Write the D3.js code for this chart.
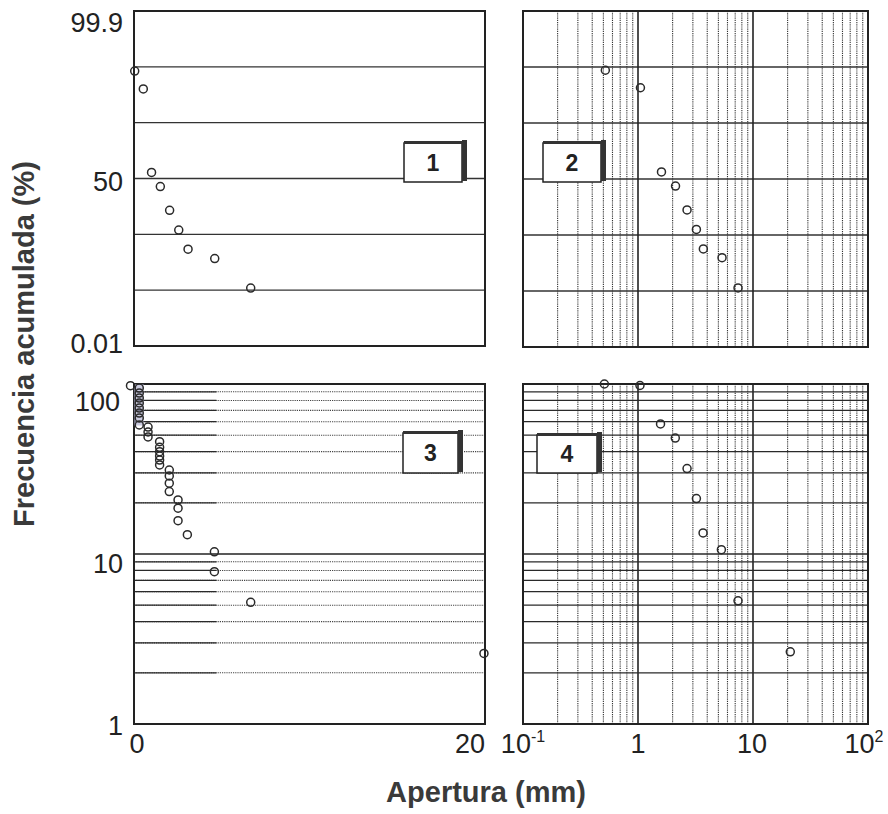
<!DOCTYPE html>
<html lang="es">
<head>
<meta charset="UTF-8">
<title>Frecuencia acumulada vs Apertura</title>
<script src="https://d3js.org/d3.v7.min.js"></script>
<style>
body { margin: 0; background: #fff; }
svg text { font-family: "Liberation Sans", Arial, Helvetica, sans-serif; fill: #222; }
.tick-label { font-size: 27px; }
.axis-title { font-size: 29px; font-weight: bold; fill: #3a3a3a; }
.box-label { font-size: 23px; font-weight: bold; }
.frame { fill: none; stroke: #222; stroke-width: 2px; }
.pt { fill: none; stroke: #2a2a2a; stroke-width: 1.5px; }
</style>
</head>
<body>
<div id="chart"></div>
<script>
// values, one pair of arrays per panel
// panel 1: linear x, probability y
var p1X = [0.04, 0.53, 1.0, 1.5, 2.03, 2.55, 3.08, 4.6, 6.65];
var p1Y = [82.0, 76.7, 51.8, 47.6, 40.5, 34.6, 28.9, 26.1, 17.3];
// panel 2: log x, probability y
var p2X = [0.52, 1.05, 1.6, 2.12, 2.67, 3.22, 3.7, 5.38, 7.41];
var p2Y = [82.3, 77.1, 52.1, 47.9, 40.8, 35.0, 29.2, 26.6, 17.6];
// panel 3: linear x, log y
var p3X = [-0.2, 0.3, 0.3, 0.3, 0.3, 0.3, 0.3, 0.3, 0.3, 0.8, 0.8, 0.8,
           1.46, 1.46, 1.46, 1.46, 1.46, 1.46, 2.01, 2.01, 2.01, 2.01,
           2.51, 2.51, 2.51, 3.04, 4.58, 4.58, 6.65, 19.94];
var p3Y = [97.8, 94.7, 88.5, 82.7, 77.3, 72.2, 67.5, 63.1, 57.4, 55.8, 52.2, 48.8,
           45.8, 42.4, 40.0, 37.7, 35.7, 33.4, 31.2, 28.8, 26.1, 23.3,
           20.8, 18.6, 15.7, 13.0, 10.3, 7.87, 5.2, 2.6];
// panel 4: log x, log y
var p4X = [0.51, 1.04, 1.57, 2.11, 2.67, 3.22, 3.68, 5.31, 7.41, 21.1];
var p4Y = [100, 98, 58.2, 48.1, 31.8, 21.2, 13.3, 10.6, 5.3, 2.66];

// tick labels
var probTicks = [0.01, 50, 99.9];
var logYTicks = [1, 10, 100];
var linXTicks = [0, 20];
var logXTicks = [0.1, 1, 10, 100];
var logXText = [["10", "-1"], ["1", ""], ["10", ""], ["10", "2"]];
var panelNames = ["1", "2", "3", "4"];

var svg = d3.select("#chart")
  .append("svg")
    .attr("width", 888)
    .attr("height", 814);

// panel frames
var P = [
  {x0: 134, x1: 485, y0: 11,  y1: 346},
  {x0: 523, x1: 868, y0: 11,  y1: 347},
  {x0: 134, x1: 485, y0: 384, y1: 724},
  {x0: 523, x1: 868, y0: 384, y1: 724}
];

// scales
var x1 = d3.scaleLinear().domain([0, 20]).range([P[0].x0, P[0].x1]);
var y1 = d3.scaleLinear().domain([0.01, 50, 99.9]).range([P[0].y1, (P[0].y0 + P[0].y1) / 2, P[0].y0]);
var x2 = d3.scaleLog().domain([0.1, 100]).range([P[1].x0, P[1].x1]);
var y2 = d3.scaleLinear().domain([0.01, 50, 99.9]).range([P[1].y1, (P[1].y0 + P[1].y1) / 2, P[1].y0]);
var x3 = d3.scaleLinear().domain([0, 20]).range([P[2].x0, P[2].x1]);
var y3 = d3.scaleLog().domain([1, 100]).range([P[2].y1, P[2].y0]);
var x4 = d3.scaleLog().domain([0.1, 100]).range([P[3].x0, P[3].x1]);
var y4 = d3.scaleLog().domain([1, 100]).range([P[3].y1, P[3].y0]);

function isDecade(v) { return Math.abs(Math.log10(v) - Math.round(Math.log10(v))) < 1e-9; }

// --- gridlines ---
// probability panels: six equal bands
[0, 1].forEach(function(k) {
  var p = P[k];
  var ys = d3.range(1, 6).map(function(i) { return p.y0 + i * (p.y1 - p.y0) / 6; });
  svg.append("g").selectAll("line").data(ys).enter().append("line")
    .attr("x1", p.x0).attr("x2", p.x1)
    .attr("y1", function(d) { return d; }).attr("y2", function(d) { return d; })
    .style("stroke", "#333").style("stroke-width", 1.3);
});

// vertical log gridlines in panels 2 and 4
[[P[1], x2], [P[3], x4]].forEach(function(a) {
  var p = a[0], x = a[1];
  var vals = x.ticks().filter(function(v) { return v > 0.1 && v < 100; });
  svg.append("g").selectAll("line").data(vals).enter().append("line")
    .attr("x1", function(d) { return x(d); }).attr("x2", function(d) { return x(d); })
    .attr("y1", p.y0).attr("y2", p.y1)
    .style("stroke", function(d) { return isDecade(d) ? "#222" : "#333"; })
    .style("stroke-width", function(d) { return isDecade(d) ? 1.6 : 1.1; })
    .style("stroke-dasharray", function(d) { return isDecade(d) ? null : "1.2,1"; });
});

// horizontal log gridlines, panel 3 (dotted, solid at the left end)
var y3vals = y3.ticks().filter(function(v) { return v > 1 && v < 100; });
svg.append("g").selectAll("line").data(y3vals).enter().append("line")
  .attr("x1", P[2].x0).attr("x2", P[2].x1)
  .attr("y1", function(d) { return y3(d); }).attr("y2", function(d) { return y3(d); })
  .style("stroke", function(d) { return isDecade(d) ? "#222" : "#444"; })
  .style("stroke-width", function(d) { return isDecade(d) ? 1.6 : 1.1; })
  .style("stroke-dasharray", function(d) { return isDecade(d) ? null : "1.2,1"; });
svg.append("g").selectAll("line").data(y3vals.filter(function(v) { return !isDecade(v); })).enter().append("line")
  .attr("x1", P[2].x0).attr("x2", x3(4.7))
  .attr("y1", function(d) { return y3(d); }).attr("y2", function(d) { return y3(d); })
  .style("stroke", "#2a2a2a").style("stroke-width", 1.3);

// horizontal log gridlines, panel 4 (solid)
var y4vals = y4.ticks().filter(function(v) { return v > 1 && v < 100; });
svg.append("g").selectAll("line").data(y4vals).enter().append("line")
  .attr("x1", P[3].x0).attr("x2", P[3].x1)
  .attr("y1", function(d) { return y4(d); }).attr("y2", function(d) { return y4(d); })
  .style("stroke", "#2a2a2a")
  .style("stroke-width", function(d) { return isDecade(d) ? 1.6 : 1.2; });

// frames
P.forEach(function(p) {
  svg.append("rect").attr("class", "frame")
    .attr("x", p.x0).attr("y", p.y0)
    .attr("width", p.x1 - p.x0).attr("height", p.y1 - p.y0);
});

// scanned tint behind the crowded column in panel 3
svg.append("rect")
  .attr("x", x3(0)).attr("y", y3(100))
  .attr("width", x3(0.55) - x3(0)).attr("height", y3(57) - y3(100))
  .style("fill", "#a9a9cc").style("opacity", 0.6);

// --- label boxes ---
function labelBox(x, y, w, h, txt) {
  var g = svg.append("g");
  g.append("rect").attr("x", x).attr("y", y).attr("width", w).attr("height", h)
    .style("fill", "#fff").style("stroke", "#222").style("stroke-width", 1.5);
  g.append("rect").attr("x", x).attr("y", y - 2).attr("width", w).attr("height", 3)
    .style("fill", "#333");
  g.append("rect").attr("x", x + w).attr("y", y - 3).attr("width", 5).attr("height", h + 2)
    .style("fill", "#333");
  g.append("text").attr("class", "box-label")
    .attr("x", x + w / 2).attr("y", y + h / 2 + 8)
    .attr("text-anchor", "middle")
    .text(txt);
}
labelBox(404, 143, 58, 39, panelNames[0]);
labelBox(543, 143, 58, 39, panelNames[1]);
labelBox(403, 433, 55, 40, panelNames[2]);
labelBox(537, 435, 60, 38, panelNames[3]);

// --- points ---
function dots(xs, ys, x, y) {
  svg.append("g").selectAll("circle")
    .data(d3.zip(xs, ys)).enter().append("circle")
      .attr("class", "pt")
      .attr("cx", function(d) { return x(d[0]); })
      .attr("cy", function(d) { return y(d[1]); })
      .attr("r", 4);
}
dots(p1X, p1Y, x1, y1);
dots(p2X, p2Y, x2, y2);
dots(p3X, p3Y, x3, y3);
dots(p4X, p4Y, x4, y4);

// --- tick labels ---
svg.append("g").selectAll("text").data(probTicks).enter().append("text")
  .attr("class", "tick-label")
  .attr("text-anchor", "end")
  .attr("x", 123)
  .attr("y", function(d) { return y1(d) + 9.5 + (d == 99.9 ? 11 : d == 50 ? 3 : -3); })
  .text(function(d) { return String(d); });

svg.append("g").selectAll("text").data(logYTicks).enter().append("text")
  .attr("class", "tick-label")
  .attr("text-anchor", "end")
  .attr("x", function(d) { return d == 100 ? 120 : 123; })
  .attr("y", function(d) { return y3(d) + 9.5 + (d == 100 ? 17 : d == 10 ? 9 : 1); })
  .text(function(d) { return String(d); });

svg.append("g").selectAll("text").data(linXTicks).enter().append("text")
  .attr("class", "tick-label")
  .attr("text-anchor", function(d, i) { return i == 0 ? "middle" : "end"; })
  .attr("x", function(d, i) { return i == 0 ? x3(d) + 3 : x3(d); })
  .attr("y", 753)
  .text(function(d) { return String(d); });

var lx = svg.append("g").selectAll("text").data(logXTicks).enter().append("text")
  .attr("class", "tick-label")
  .attr("text-anchor", "middle")
  .attr("x", function(d) { return x4(d) + (d == 100 ? -4 : d == 10 ? -1 : 0); })
  .attr("y", 753);
lx.append("tspan").text(function(d, i) { return logXText[i][0]; });
lx.append("tspan")
  .attr("dy", -11)
  .style("font-size", "16px")
  .text(function(d, i) { return logXText[i][1]; });

// --- axis titles ---
svg.append("text")
  .attr("class", "axis-title")
  .attr("transform", "translate(34,344) rotate(-90)")
  .attr("text-anchor", "middle")
  .text("Frecuencia acumulada (%)");

svg.append("text")
  .attr("class", "axis-title")
  .attr("x", 486)
  .attr("y", 802)
  .attr("text-anchor", "middle")
  .text("Apertura (mm)");
</script>
</body>
</html>
